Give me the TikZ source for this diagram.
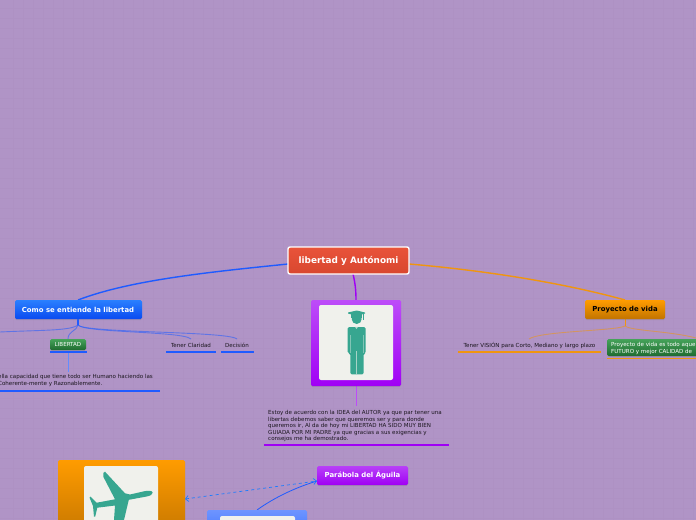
\documentclass[tikz,border=0pt]{standalone}
\usepackage{fontspec}
\setmainfont{DejaVu Sans}
\usetikzlibrary{shadows,arrows.meta}
\definecolor{bgc}{HTML}{B094C6}
\definecolor{gridc}{HTML}{AE91C3}
\definecolor{bluel}{HTML}{1F5BFF}
\definecolor{purpl}{HTML}{A000F5}
\definecolor{orng}{HTML}{F0950F}
\definecolor{teal}{HTML}{37A690}
\definecolor{paper}{HTML}{F0F1EC}
\definecolor{rootT}{HTML}{E9533A}
\definecolor{rootB}{HTML}{D8472F}
\definecolor{grnT}{HTML}{45A35A}
\definecolor{grnB}{HTML}{1F6B30}
\definecolor{orT}{HTML}{FF9C00}
\definecolor{orB}{HTML}{C27400}
\definecolor{comoT}{HTML}{2A80FF}
\definecolor{comoB}{HTML}{0A4AF0}
\tikzset{
  x=1pt,y=-1pt,
  box/.style={rounded corners=1.5pt,inner sep=0pt,drop shadow={opacity=.3,shadow xshift=0pt,shadow yshift=-1pt}},
  lab/.style={font=\fontsize{5.55}{6.6}\selectfont,text=black!85!bgc,inner sep=0pt,align=left},
  title/.style={font=\fontsize{6.9}{8.5}\selectfont\bfseries,inner sep=0pt},
  uline/.style={line width=1.9pt},
  conn/.style={line width=1.4pt},
  thin conn/.style={line width=.9pt,opacity=.55},
  inner paper/.style={fill=paper,rounded corners=2pt,draw=none},
}
\begin{document}
\begin{tikzpicture}
\useasboundingbox (0,0) rectangle (696,519.5);
\clip (0,0) rectangle (696,519.5);
\fill[bgc] (0,0) rectangle (696,520);
\foreach \i in {0,...,68} \draw[gridc,line width=.5pt] ({13+10*\i},0) -- ({13+10*\i},520);
\foreach \i in {0,...,51} \draw[gridc,line width=.5pt] (0,{8+10*\i}) -- (696,{8+10*\i});

% anchor coordinates
\coordinate (rootL) at (288,264);
\coordinate (rootR) at (409,264);
\coordinate (rootBot) at (353,274);
\coordinate (comoTop) at (78,300);
\coordinate (comoBot) at (78,319);
\coordinate (comoJ) at (78,325);
\coordinate (proyT) at (625,300);
\coordinate (proyB) at (625,319);
\coordinate (proyJ) at (625,326);
\coordinate (imgT) at (356,300);
\coordinate (imgB) at (356,386);
\coordinate (estoyT) at (356,406);
\coordinate (libT) at (68,339);
\coordinate (libB) at (68,353);
\coordinate (ellaT) at (68,372);
\coordinate (claT) at (191,339);
\coordinate (decT) at (237,339);
\coordinate (visT) at (529,339);
\coordinate (offL) at (0,332);
\coordinate (offR) at (696,338);
\coordinate (parL) at (317,481);
\coordinate (planeR) at (185,499);
\coordinate (blueT) at (257,510);

% connectors
\draw[bluel,conn] (rootL) .. controls (210,272) and (130,280) .. (comoTop);
\draw[orng,conn] (rootR) .. controls (480,270) and (560,282) .. (proyT);
\draw[purpl,conn] (rootBot) .. controls (355,282) and (356,290) .. (imgT);
\draw[purpl!70!white,line width=.8pt] (imgB) -- (estoyT);
\draw[bluel,line width=1.6pt] (comoBot) -- (comoJ);
\draw[bluel,thin conn] (comoJ) .. controls (70,331) and (40,330) .. (offL);
\draw[bluel,thin conn] (comoJ) .. controls (77,331) and (68,331) .. (libT);
\draw[bluel,thin conn] (comoJ) .. controls (84,333) and (183,331) .. (claT);
\draw[bluel,thin conn] (comoJ) .. controls (84,333) and (228,331) .. (decT);
\draw[bluel!70!white,line width=.8pt] (libB) -- (ellaT);
\draw[orng,line width=.8pt] (proyB) -- (proyJ);
\draw[orng,thin conn] (proyJ) .. controls (615,331) and (540,331) .. (visT);
\draw[orng,thin conn] (proyJ) .. controls (632,331) and (670,331) .. (offR);
\draw[bluel,line width=.8pt] (blueT) .. controls (275,497) and (297,487) .. (parL);
\draw[bluel!80!cyan,line width=.7pt,dashed,{Straight Barb[length=3pt]}-{Straight Barb[length=3pt]}] (planeR) -- (parL);

% root
\path[draw=white,line width=1.4pt,rounded corners=2pt,top color=rootT,bottom color=rootB] (288,247) rectangle (409,274);
\node[title,text=white,font=\fontsize{8.9}{9}\selectfont\bfseries] (root) at (348.5,261) {libertad y Autónomi};

% como
\path[box,top color=comoT,bottom color=comoB] (15,300) rectangle (142,319);
\node[title,text=white] (como) at (78,309.5) {Como se entiende la libertad};

% libertad
\path[box,top color=grnT,bottom color=grnB] (50,339) rectangle (86,350);
\node[lab,text=white] (lib) at (68,344.5) {LIBERTAD};
\draw[bluel,uline] (50,352) -- (87,352);

\node[lab] (cla) at (191,345) {Tener Claridad};
\draw[bluel,uline] (166,352) -- (216,352);
\node[lab] (dec) at (237,345) {Decisión};
\draw[bluel,uline] (221,352) -- (254,352);

\node[lab,anchor=west] (ella) at (-2,380.5) {ella capacidad que tiene todo ser Humano haciendo las\\Coherente-mente y Razonablemente.};
\draw[bluel,uline] (0,391) -- (160,391);

% centre image
\path[box,top color=purpl!70!white,bottom color=purpl] (311,300) rectangle (401,386);
\path[inner paper] (319,305) rectangle (393,380);
\fill[teal] (348,312.5) -- (356.7,310.5) -- (365,312.5) -- (365,313.5) -- (356.7,316) -- (348,313.5) -- cycle;
\fill[teal] (351,313) rectangle (362,318);
\fill[teal] (356.7,319) circle (5pt);
\draw[teal,line width=.6pt] (363,313) -- (363,320);
\fill[teal,rounded corners=1.5pt] (347.7,327) -- (365.7,327) -- (365.7,353.3) -- (363.7,353.3) -- (363.7,374.3) -- (350.3,374.3) -- (350.3,353.3) -- (347.7,353.3) -- cycle;
\draw[paper!60!teal,line width=.4pt] (356.3,351) -- (356.3,374.3);
\draw[paper!40!teal,line width=.3pt] (350.3,335) -- (350.3,353) (363.3,335) -- (363.3,353);
\fill[paper!70!teal] (355,326.8) -- (358,326.8) -- (356.5,329) -- cycle;

\node[lab,anchor=north west] (estoy) at (268,410) {Estoy de acuerdo con la IDEA del AUTOR ya que par tener una\\libertas debemos saber que queremos ser y para donde\\queremos ir, Al da de hoy mi LIBERTAD HA SIDO MUY BIEN\\GUIADA POR MI PADRE ya que gracias a sus exigencias y\\consejos me ha demostrado.};
\draw[purpl,uline] (264,445) -- (449,445);

% proyecto
\path[box,top color=orT,bottom color=orB] (585,300) rectangle (665,319);
\node[title,text=black] (proy) at (625,309.5) {Proyecto de vida};

\node[lab] (vis) at (529.5,345) {Tener VISIÓN para Corto, Mediano y largo plazo};
\draw[orng,uline] (458,352) -- (601,352);
\path[box,top color=grnT,bottom color=grnB] (607,339) rectangle (700,356);
\node[lab,text=white,anchor=west] (pvida) at (611,348.5) {Proyecto de vida es todo aquel\\FUTURO y mejor CALIDAD de};
\draw[orng,uline] (607,358.5) -- (700,358.5);

% plane box
\path[box,top color=orT,bottom color=orB] (58,460) rectangle (185,540);
\path[inner paper] (84,466) rectangle (158,540);
\fill[teal] (152.7,492.7) .. controls (152.5,490.5) and (148,490.3) .. (144,491.3)
  -- (130,494.5) -- (125,493.3) -- (105,471.7) -- (103.3,473) -- (103.3,476.7) -- (115,499.3) -- (96.7,502.7) -- (90.5,496.7) -- (89.5,497.5) -- (93,506) -- (94,516.7) -- (95.2,516.7) -- (97.3,507.7)
  -- (115,505.5) -- (114,520) -- (124,520) -- (128.8,499.8) -- (146.7,496.5) .. controls (150,495.8) and (152.9,494.6) .. (152.7,492.7) -- cycle;

% parabola
\path[box,top color=purpl!75!white,bottom color=purpl] (317,466) rectangle (408,485);
\node[title,text=white] (par) at (362.5,475.5) {Parábola del Águila};

% blue box
\path[box,top color=bluel!65!white,bottom color=bluel] (207,510) rectangle (307,560);
\path[inner paper] (220,516) rectangle (295,560);
\end{tikzpicture}
\end{document}
